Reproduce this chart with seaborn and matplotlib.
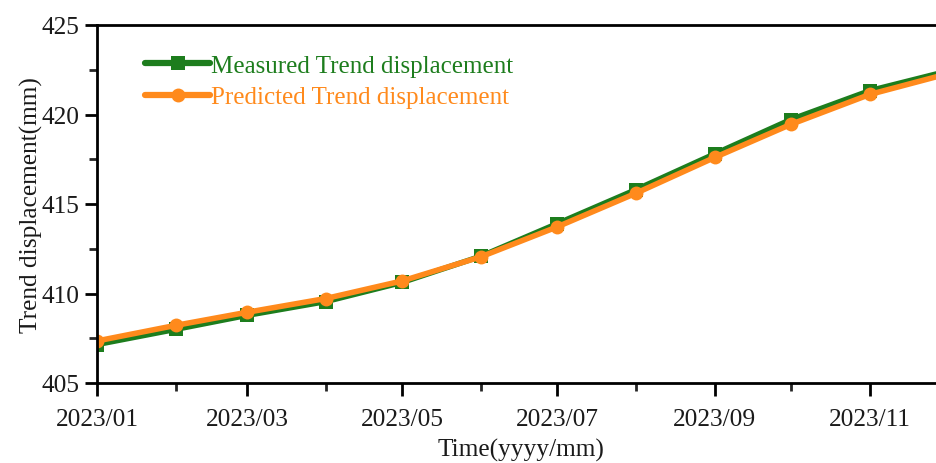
import matplotlib
matplotlib.use("Agg")
import matplotlib.pyplot as plt
import matplotlib.dates as mdates
from matplotlib.ticker import MultipleLocator
import seaborn as sns
import pandas as pd

months = ["2023-01", "2023-02", "2023-03", "2023-04", "2023-05", "2023-06",
          "2023-07", "2023-08", "2023-09", "2023-10", "2023-11", "2023-12"]
measured = [407.15, 408.0, 408.78, 409.55, 410.62, 412.08,
            413.9, 415.8, 417.8, 419.72, 421.33, 422.4]
predicted = [407.35, 408.22, 408.95, 409.72, 410.7, 412.05,
             413.72, 415.6, 417.6, 419.45, 421.12, 422.25]

dates = pd.to_datetime(months)
df = pd.DataFrame({
    "date": list(dates) * 2,
    "value": measured + predicted,
    "series": ["Measured Trend displacement"] * len(months)
              + ["Predicted Trend displacement"] * len(months),
})

sns.set_style("ticks")
plt.rcParams["font.family"] = ["Liberation Serif", "DejaVu Serif"]

green = "#1d7d1d"
orange = "#ff8a1c"
textc = "#1a1a1a"

fig = plt.figure(figsize=(9.36, 4.64), dpi=100)
ax = fig.add_axes([97 / 936, 1 - 384 / 464, 849 / 936, 358 / 464])

sns.lineplot(data=df, x="date", y="value", hue="series", style="series",
             palette={"Measured Trend displacement": green,
                      "Predicted Trend displacement": orange},
             markers={"Measured Trend displacement": "s",
                      "Predicted Trend displacement": "o"},
             dashes=False, linewidth=4, markersize=10, markeredgewidth=0,
             ax=ax, legend=True)

ax.set_xlim(dates[0], dates[-1])
ax.set_ylim(405, 425)
ax.yaxis.set_major_locator(MultipleLocator(5))
ax.yaxis.set_minor_locator(MultipleLocator(2.5))
ax.xaxis.set_major_locator(mdates.MonthLocator(bymonth=[1, 3, 5, 7, 9, 11]))
ax.xaxis.set_minor_locator(mdates.MonthLocator(bymonth=[2, 4, 6, 8, 10, 12]))
ax.xaxis.set_major_formatter(mdates.DateFormatter("%Y/%m"))

ax.tick_params(axis="both", which="major", length=9, width=2, labelsize=18.3,
               direction="out", colors="black", labelcolor=textc)
ax.tick_params(axis="x", which="major", pad=9)
ax.tick_params(axis="both", which="minor", length=6, width=2, direction="out")
for sp in ax.spines.values():
    sp.set_linewidth(2)
    sp.set_color("black")

ax.set_xlabel("Time(yyyy/mm)", fontsize=18.3, labelpad=6, color=textc)
ax.set_ylabel("Trend displacement(mm)", fontsize=18.3, labelpad=-1, color=textc)

handles, labels = ax.get_legend_handles_labels()
leg = ax.legend(handles, labels, loc="upper left", bbox_to_anchor=(0.045, 0.945),
                frameon=False, fontsize=18, handlelength=2.6, handletextpad=0.05,
                labelspacing=0.35, borderaxespad=0)
for txt, col in zip(leg.get_texts(), [green, orange]):
    txt.set_color(col)
for h in leg.legend_handles:
    h.set_linewidth(4.5)

fig.savefig("out.png", dpi=100)
